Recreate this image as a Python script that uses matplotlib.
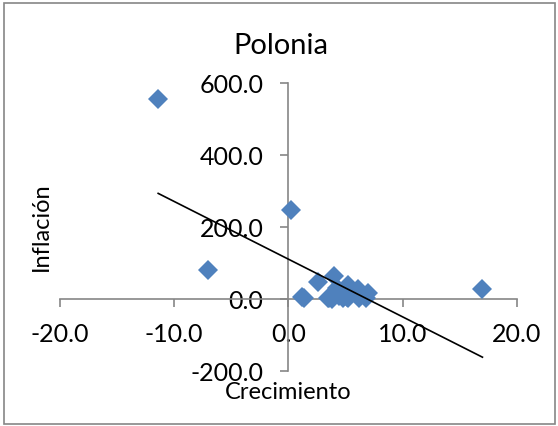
import matplotlib
matplotlib.use("Agg")
import matplotlib.pyplot as plt
import numpy as np
from matplotlib.patches import Rectangle

plt.rcParams['font.family'] = ['Lato', 'DejaVu Sans']

# crecimiento del PIB (%) e inflación (%) por año
crecimiento = [-11.4, -7.0, 0.25, 1.2, 1.4, 2.6, 4.0, 5.2, 4.3, 6.1, 7.0,
               4.5, 5.0, 4.4, 3.6, 3.8, 5.2, 3.5, 6.2, 6.8, 5.1, 4.8, 6.0, 17.0]
inflacion = [556, 79, 246, 5, 2, 47, 62, 38, 30, 28, 17,
             15, 12, 7, 2, 0, 3, 2, 1, 2, 4, 3, 20, 28]

x = np.array(crecimiento)
y = np.array(inflacion)
m, b = np.polyfit(x, y, 1)
xt = np.array([x.min(), x.max()])

gris = '#868686'

fig = plt.figure(figsize=(5.58, 4.27), dpi=100)
ax = fig.add_axes([0.1075, 0.1295, 0.8185, 0.6738])

ax.plot(x, y, 'D', color='#4F81BD', markersize=10, markeredgewidth=0, zorder=3)
ax.plot(xt, m * xt + b, color='black', linewidth=1.2, zorder=4)

ax.set_xlim(-20, 20)
ax.set_ylim(-200, 600)
ax.set_xticks([-20, -10, 0, 10, 20])
ax.set_yticks([-200, 0, 200, 400, 600])
ax.xaxis.set_major_formatter(matplotlib.ticker.FormatStrFormatter('%.1f'))
ax.yaxis.set_major_formatter(matplotlib.ticker.FormatStrFormatter('%.1f'))

ax.spines['left'].set_position(('data', 0))
ax.spines['bottom'].set_position(('data', 0))
ax.spines['right'].set_visible(False)
ax.spines['top'].set_visible(False)
for s in ['left', 'bottom']:
    ax.spines[s].set_color(gris)
    ax.spines[s].set_linewidth(1.2)

ax.tick_params(axis='x', direction='out', length=5.5, width=1.2, color=gris,
               labelsize=18, pad=11)
ax.tick_params(axis='y', direction='out', length=6, width=1.2, color=gris,
               labelsize=18, pad=12)

fig.text(281 / 558, 1 - 46 / 427, 'Polonia', fontsize=21, ha='center', va='center')
fig.text(288 / 558, 1 - 393 / 427, 'Crecimiento', fontsize=17, ha='center', va='center')
fig.text(41 / 558, 1 - 227 / 427, 'Inflación', fontsize=17, ha='center', va='center',
         rotation=90)

fig.patches.append(Rectangle((4 / 558, 2 / 427), 551 / 558, 421 / 427,
                             transform=fig.transFigure, fill=False,
                             edgecolor=gris, linewidth=1.2))

fig.savefig('out.png', dpi=100)
